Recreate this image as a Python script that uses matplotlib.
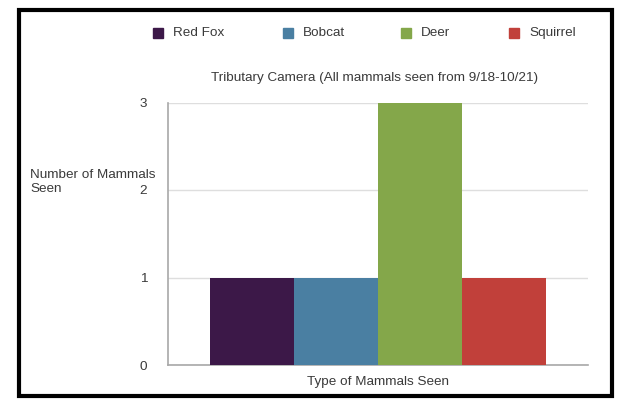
import matplotlib
matplotlib.use("Agg")
import matplotlib.pyplot as plt
from matplotlib.patches import Rectangle

plt.rcParams['font.family'] = ['Liberation Sans', 'DejaVu Sans']

# Mammal counts from the tributary camera
mammals = ["Red Fox", "Bobcat", "Deer", "Squirrel"]
counts = [1, 1, 3, 1]
colors = ["#3c1848", "#4a7fa2", "#84a74a", "#c1403a"]
y_ticks = [0, 1, 2, 3]

FS = 9.7
TXT = "#3a3a3a"

fig = plt.figure(figsize=(6.29, 4.01), dpi=100)
fig.patch.set_facecolor("white")

ax = fig.add_axes([168/629, 1-365/401, (588-168)/629, (365-102.5)/401])
x = list(range(len(mammals)))
ax.bar(x, counts, width=1.0, color=colors, zorder=3)
ax.set_xlim(-1, 4)
ax.set_ylim(0, 3)
ax.set_yticks(y_ticks)
ax.set_xticks([])
ax.yaxis.grid(True, color="#dedede", linewidth=1.0, zorder=0)
for s in ["top", "right"]:
    ax.spines[s].set_visible(False)
for s in ["left", "bottom"]:
    ax.spines[s].set_color("#a8a8a8")
    ax.spines[s].set_linewidth(1.2)
ax.tick_params(axis="y", length=0, pad=15, labelsize=FS, labelcolor=TXT)
ax.set_xlabel("Type of Mammals Seen", fontsize=FS, color=TXT, labelpad=8)

fig.text(375/629, 1-78/401,
         "Tributary Camera (All mammals seen from 9/18-10/21)",
         fontsize=FS, color=TXT, ha="center", va="center")

# Y-axis title, written as two stacked lines
fig.text(30/629, 1-175/401, "Number of Mammals", fontsize=FS,
         color=TXT, ha="left", va="center")
fig.text(30/629, 1-189/401, "Seen", fontsize=FS,
         color=TXT, ha="left", va="center")

# Legend row across the top
leg_x = [153, 283, 401, 509]
for name, c, lx in zip(mammals, colors, leg_x):
    fig.patches.append(Rectangle((lx/629, 1-38/401), 10/629, 10/401,
                                 transform=fig.transFigure, color=c))
    fig.text((lx+20)/629, 1-33/401, name, fontsize=FS, color=TXT,
             ha="left", va="center")

# Outer frame
fig.patches.append(Rectangle((19/629, 1-396/401), (612-19)/629, (396-10)/401,
                             transform=fig.transFigure, fill=False,
                             edgecolor="black", linewidth=3))

fig.savefig("out.png", dpi=100)
